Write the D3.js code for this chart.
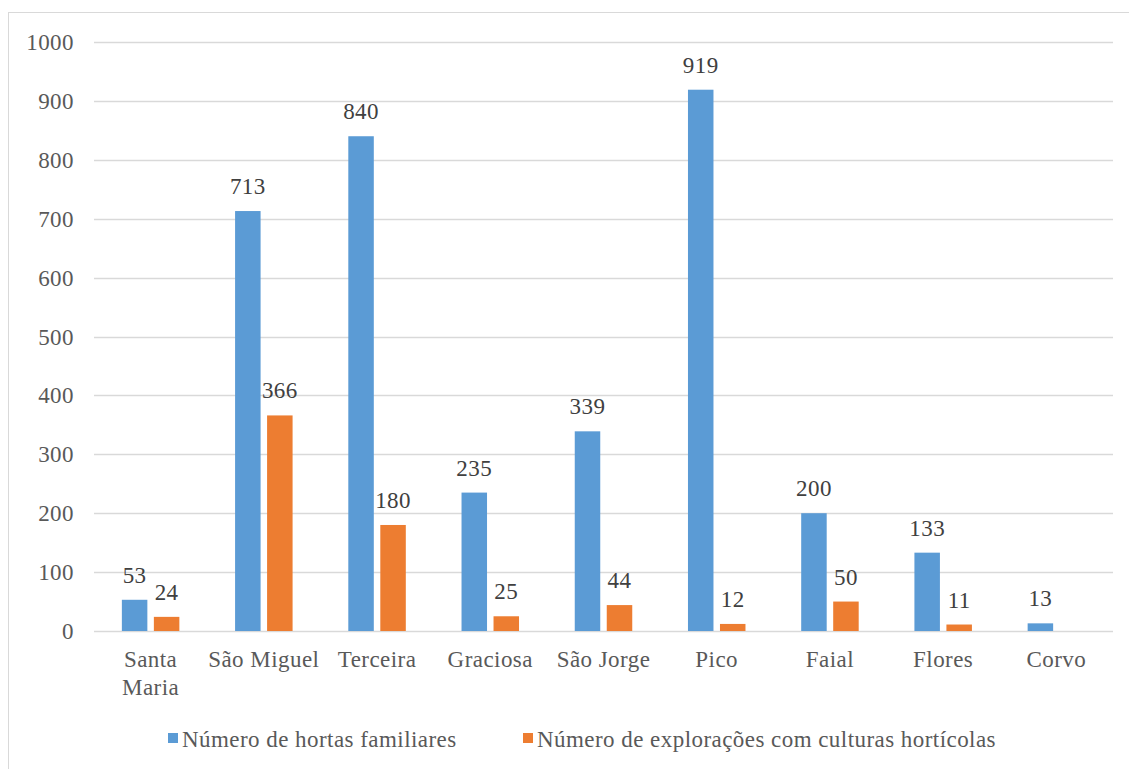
<!DOCTYPE html>
<html>
<head>
<meta charset="utf-8">
<script src="https://cdn.jsdelivr.net/npm/d3@7"></script>
<style>
  html, body { margin: 0; padding: 0; background: #fff; }
  svg { display: block; }
  svg text { font-family: "Liberation Serif", "Times New Roman", serif; letter-spacing: 0.45px; }
</style>
</head>
<body>
<svg id="chart" width="1129" height="769"></svg>
<script>
// Island names (category axis); "\n" marks a wrapped label
const islands = ["Santa\nMaria", "São Miguel", "Terceira", "Graciosa", "São Jorge", "Pico", "Faial", "Flores", "Corvo"];
// Series values
const hortasFamiliares = [53, 713, 840, 235, 339, 919, 200, 133, 13];
const exploracoesHorticolas = [24, 366, 180, 25, 44, 12, 50, 11, 0];
const seriesNames = ["Número de hortas familiares", "Número de explorações com culturas hortícolas"];
const seriesColors = ["#5B9BD5", "#ED7D31"];
const yTicks = [0, 100, 200, 300, 400, 500, 600, 700, 800, 900, 1000];

const svg = d3.select("#chart");
const FS = 23;

// Outer chart frame
svg.append("rect")
  .attr("x", 8.5).attr("y", 12.5)
  .attr("width", 1130).attr("height", 780)
  .attr("fill", "#fff").attr("stroke", "#d9d9d9").attr("stroke-width", 1);

const plot = { left: 94, right: 1113, top: 42, bottom: 631 };

const x = d3.scaleBand()
  .domain(d3.range(islands.length))
  .range([plot.left, plot.right])
  .paddingInner(0.5).paddingOuter(0.25);

const y = d3.scaleLinear().domain([0, 1000]).range([plot.bottom, plot.top]);

// Horizontal gridlines
svg.append("g").selectAll("line").data(yTicks).join("line")
  .attr("x1", plot.left).attr("x2", plot.right)
  .attr("y1", d => Math.round(y(d)) + 0.5).attr("y2", d => Math.round(y(d)) + 0.5)
  .attr("stroke", "#d9d9d9").attr("stroke-width", 1.5);

// Y axis labels
const yAxis = d3.axisLeft(y).tickValues(yTicks).tickFormat(d3.format("d")).tickSize(0).tickPadding(0);
const yg = svg.append("g").attr("transform", `translate(${plot.left - 20},0)`).call(yAxis);
yg.attr("font-family", null).attr("font-size", null);
yg.select(".domain").remove();
yg.selectAll("text")
  .style("font-size", FS + "px").attr("fill", "#595959").attr("dy", "0.33em");

// Bars
const barW = 25.5, barGap = 6.5;
const sub = d3.scaleOrdinal().domain([0, 1]).range([-(barW + barGap / 2), barGap / 2]);
const center = i => x(i) + x.bandwidth() / 2;

const series = [hortasFamiliares, exploracoesHorticolas];
series.forEach((vals, s) => {
  const g = svg.append("g");
  g.selectAll("rect").data(vals).join("rect")
    .attr("x", (d, i) => center(i) + sub(s))
    .attr("y", d => y(d))
    .attr("width", barW)
    .attr("height", d => y(0) - y(d))
    .attr("fill", seriesColors[s]);
  g.selectAll("text").data(vals.map((v, i) => ({ v, i })).filter(d => d.v > 0)).join("text")
    .attr("x", d => center(d.i) + sub(s) + barW / 2)
    .attr("y", d => y(d.v) - 17)
    .attr("text-anchor", "middle")
    .style("font-size", FS + "px").attr("fill", "#404040")
    .text(d => d.v);
});

// Category labels
const xg = svg.append("g");
islands.forEach((name, i) => {
  const lines = name.split("\n");
  const t = xg.append("text")
    .attr("x", center(i)).attr("y", 667)
    .attr("text-anchor", "middle")
    .style("font-size", FS + "px").attr("fill", "#595959");
  lines.forEach((ln, k) => {
    t.append("tspan").attr("x", center(i)).attr("dy", k === 0 ? 0 : 28).text(ln);
  });
});

// Legend
const legend = svg.append("g");
const legendItems = [{ x: 168, name: seriesNames[0], color: seriesColors[0] },
                     { x: 523, name: seriesNames[1], color: seriesColors[1] }];
legendItems.forEach(it => {
  legend.append("rect").attr("x", it.x).attr("y", 733).attr("width", 10).attr("height", 10).attr("fill", it.color);
  legend.append("text").attr("x", it.x + 14).attr("y", 747)
    .style("font-size", FS + "px").attr("fill", "#595959")
    .text(it.name);
});
</script>
</body>
</html>
